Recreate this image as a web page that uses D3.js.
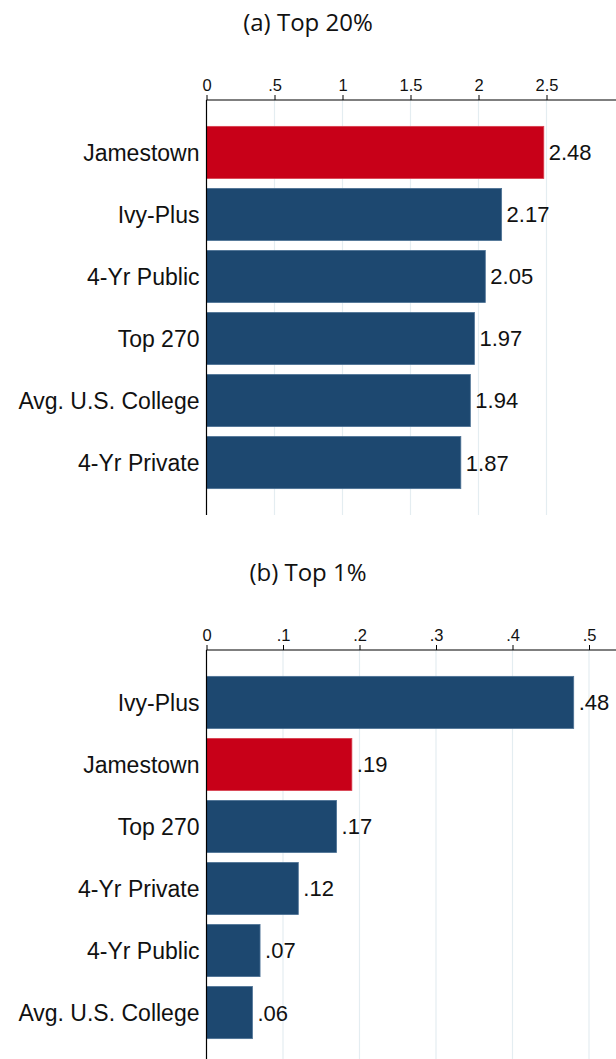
<!DOCTYPE html>
<html>
<head>
<meta charset="utf-8">
<script src="https://cdn.jsdelivr.net/npm/d3@7"></script>
<style>
  body { margin: 0; background: #fff; }
  svg { display: block; }
  .cat { font-family: "Liberation Sans", Arial, sans-serif; font-size: 23px; fill: #111; }
  .val { font-family: "Liberation Sans", Arial, sans-serif; font-size: 22px; fill: #111; }
  .tick text { font-family: "Liberation Sans", Arial, sans-serif; font-size: 16.5px; fill: #111; }
  .title { font-family: "Open Sans", "DejaVu Sans", sans-serif; font-size: 24px; fill: #111; }
</style>
</head>
<body>
<script>
// panel (a): Top 20%
let catsA = ["Jamestown", "Ivy-Plus", "4-Yr Public", "Top 270", "Avg. U.S. College", "4-Yr Private"];
let valsA = [2.48, 2.17, 2.05, 1.97, 1.94, 1.87];
let ticksA = [0, 0.5, 1, 1.5, 2, 2.5];

// panel (b): Top 1%
let catsB = ["Ivy-Plus", "Jamestown", "Top 270", "4-Yr Private", "4-Yr Public", "Avg. U.S. College"];
let valsB = [0.48, 0.19, 0.17, 0.12, 0.07, 0.06];
let ticksB = [0, 0.1, 0.2, 0.3, 0.4, 0.5];

let highlight = "Jamestown";
let width = 616, height = 1059;
let navy = "#1d4870", red = "#c80018";

// strip the leading zero the way Stata does (.5, .48)
function fmt(v, digits) {
    let s = digits == null ? String(+v.toFixed(2)) : v.toFixed(digits);
    return s.replace(/^0\./, ".");
}

let svg = d3.select("body").append("svg")
    .attr("width", width)
    .attr("height", height);

/**
 * Draws one horizontal bar panel
 * @param top y of the top axis line
 * @param title panel title
 * @param cats category labels
 * @param vals bar values
 * @param ticks tick values
 * @param tickMax value at the last tick
 * @param valFmt formatter for the value labels
 */
function drawPanel(top, title, cats, vals, ticks, tickMax, valFmt) {
    let x0 = 206.5;
    let x = d3.scaleLinear().domain([0, tickMax]).range([x0, x0 + (tickMax === 2.5 ? 340 : 382.5)]);
    let y = d3.scaleBand().domain(cats).range([top, top + 415])
        .paddingInner(0.16).paddingOuter(0.425);
    let bottom = Math.min(top + 415, height);

    let g = svg.append("g");

    g.append("text")
        .attr("class", "title")
        .attr("x", 308)
        .attr("y", top - 69)
        .attr("text-anchor", "middle")
        .text(title);

    // grid
    g.selectAll("line.grid")
        .data(ticks.filter(t => t > 0))
        .enter()
        .append("line")
        .attr("class", "grid")
        .attr("x1", d => x(d)).attr("x2", d => x(d))
        .attr("y1", top).attr("y2", bottom)
        .attr("stroke", "#e4edf1")
        .attr("stroke-width", 1.2);

    // bars
    g.selectAll("rect.bar")
        .data(cats)
        .enter()
        .append("rect")
        .attr("class", "bar")
        .attr("x", x(0))
        .attr("y", d => y(d))
        .attr("width", (d, i) => x(vals[i]) - x(0))
        .attr("height", y.bandwidth())
        .attr("fill", d => d === highlight ? red : navy)
        .attr("stroke", d => d === highlight ? "#d8404f" : "#4d7295")
        .attr("stroke-width", 0.8);

    g.selectAll("text.val")
        .data(cats)
        .enter()
        .append("text")
        .attr("class", "val")
        .attr("x", (d, i) => x(vals[i]) + 5)
        .attr("y", d => y(d) + y.bandwidth() / 2)
        .attr("dy", "0.36em")
        .text((d, i) => valFmt(vals[i]));

    g.selectAll("text.cat")
        .data(cats)
        .enter()
        .append("text")
        .attr("class", "cat")
        .attr("x", x0 - 7)
        .attr("y", d => y(d) + y.bandwidth() / 2)
        .attr("dy", "0.36em")
        .attr("text-anchor", "end")
        .text(d => d);

    // top axis
    let axis = d3.axisTop(x)
        .tickValues(ticks)
        .tickSize(5)
        .tickPadding(4)
        .tickFormat(d => fmt(d));
    let ax = g.append("g")
        .attr("transform", `translate(0,${top})`)
        .call(axis);
    ax.select(".domain").remove();
    ax.selectAll(".tick line").attr("stroke", "#000");

    g.append("line")
        .attr("x1", x0).attr("x2", width)
        .attr("y1", top).attr("y2", top)
        .attr("stroke", "#000").attr("stroke-width", 1.2);

    g.append("line")
        .attr("x1", x0).attr("x2", x0)
        .attr("y1", top).attr("y2", bottom)
        .attr("stroke", "#000").attr("stroke-width", 1.2);
}

drawPanel(100, "(a) Top 20%", catsA, valsA, ticksA, 2.5, v => v.toFixed(2));
drawPanel(650, "(b) Top 1%", catsB, valsB, ticksB, 0.5, v => fmt(v, 2));
</script>
</body>
</html>
